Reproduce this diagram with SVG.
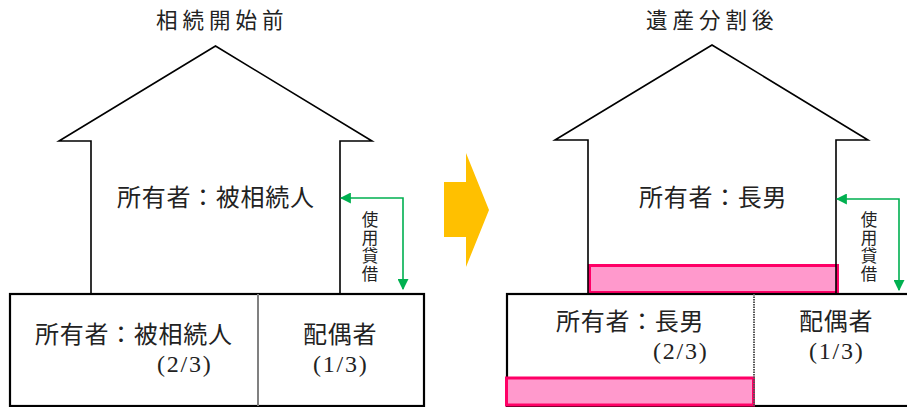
<svg xmlns="http://www.w3.org/2000/svg" width="907" height="407" viewBox="0 0 907 407">
<defs>
<style>
.t{font-family:"Noto Sans CJK JP","Noto Sans",sans-serif;fill:#222;}
.big{font-size:24px;letter-spacing:0.7px;}
.title{font-size:21.5px;letter-spacing:5px;}
.v{font-size:16.5px;writing-mode:vertical-rl;letter-spacing:1.5px;}
.n{font-family:"Liberation Serif",serif;font-size:24px;fill:#222;letter-spacing:1.8px;}
.wall{fill:none;stroke:#000;stroke-width:1.6;stroke-linejoin:miter;}
.fillw{fill:#fff;stroke:none;}
.base{fill:#fff;stroke:#000;stroke-width:2.2;}
.pink{fill:#FF99CC;stroke:#FF0066;stroke-width:3;}
.green{fill:none;stroke:#00B050;stroke-width:1.6;marker-start:url(#ah);marker-end:url(#ah);}
</style>
<marker id="ah" viewBox="0 0 10 10" refX="9" refY="5" markerWidth="11" markerHeight="11" markerUnits="userSpaceOnUse" orient="auto-start-reverse">
<path d="M0,0 L10,5 L0,10 z" fill="#00B050"/>
</marker>
</defs>

<g id="title-before"><text class="t title" x="156" y="28">相続開始前</text></g>
<g id="title-after"><text class="t title" x="646" y="28">遺産分割後</text></g>

<g id="house-before">
<path class="fillw" d="M91,294 V141 H59 L215.5,46 L372,141 H340 V294 z"/>
<path class="wall" d="M91,294 V141 H59 L215.5,46 L372,141 H340 V294"/>
<text class="t big" x="117" y="206">所有者：被相続人</text>
</g>

<g id="land-before">
<rect class="base" x="10" y="294" width="414" height="112"/>
<line x1="258" y1="294" x2="258" y2="406" stroke="#808080" stroke-width="2"/>
<text class="t big" x="35" y="343">所有者：被相続人</text>
<text class="n" x="157" y="372">(2/3)</text>
<text class="t big" x="303" y="343">配偶者</text>
<text class="n" x="313" y="372">(1/3)</text>
</g>

<g id="house-after">
<path class="fillw" d="M588,294 V140 H555 L712,45 L868,140 H836 V294 z"/>
<rect class="pink" x="589.5" y="265.5" width="248" height="27"/>
<path class="wall" d="M588,294 V140 H555 L712,45 L868,140 H836 V294"/>
<text class="t big" x="639" y="206">所有者：長男</text>
</g>

<g id="land-after">
<rect class="base" x="507" y="294" width="420" height="112"/>
<rect class="pink" x="506.5" y="378" width="247" height="27"/>
<line x1="754" y1="294" x2="754" y2="406" stroke="#555" stroke-width="2" stroke-dasharray="1.5,1"/>
<text class="t big" x="556" y="330">所有者：長男</text>
<text class="n" x="653" y="359">(2/3)</text>
<text class="t big" x="799" y="330">配偶者</text>
<text class="n" x="809" y="359">(1/3)</text>
</g>

<g id="arrow-transition">
<polygon points="444,182 466,182 466,153 489,210 466,267 466,237 444,237" fill="#FFC000"/>
</g>

<g id="connectors">
<path class="green" d="M341,198 H403 V289"/>
<path class="green" d="M837,199 H899 V290"/>
</g>

<g id="label-lease-before">
<text class="t v" x="370" y="211">使用貸借</text>
</g>
<g id="label-lease-after">
<text class="t v" x="869" y="211">使用貸借</text>
</g>
</svg>
